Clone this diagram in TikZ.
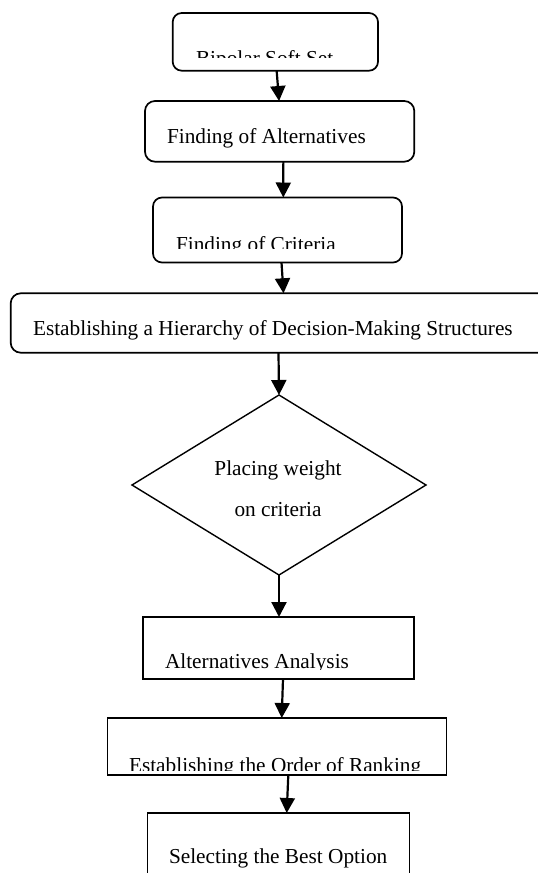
\documentclass[tikz,border=0pt]{standalone}
\usepackage{fontspec}
\setmainfont{Liberation Serif}
\usetikzlibrary{arrows.meta,shapes.geometric}
\tikzset{
  rbox/.style={draw, line width=1.7pt, rounded corners=9pt, inner sep=0pt, outer sep=0pt},
  sbox/.style={draw, line width=1.8pt, inner sep=0pt, outer sep=0pt},
  dia/.style={draw, diamond, line width=1.4pt, inner sep=0pt, outer sep=0pt},
  txt/.style={inner sep=0pt, outer sep=0pt, font=\fontsize{21.3}{25}\selectfont},
  arr/.style={line width=2.2pt, -{Triangle[length=15pt,width=15pt]}}
}
\begin{document}
\begin{tikzpicture}[x=1pt,y=-1pt]
\clip (0,0) rectangle (538,873);
\fill[white] (0,0) rectangle (538,873);
% boxes
\node[rbox, minimum width=205.3pt, minimum height=57.7pt] (b1) at (275.35,41.85) {};
\node[rbox, rounded corners=10pt, minimum width=269.3pt, minimum height=60.7pt] (b2) at (279.65,131.35) {};
\node[rbox, minimum width=249pt, minimum height=65pt] (b3) at (277.5,230) {};
\node[rbox, rounded corners=10pt, minimum width=549.3pt, minimum height=59.4pt] (b4) at (285.35,323) {};
\node[dia, minimum width=294pt, minimum height=180pt] (d5) at (279,485) {};
\node[sbox, minimum width=271pt, minimum height=62pt] (b6) at (278.5,648) {};
\node[sbox, minimum width=339pt, minimum height=57pt] (b7) at (277,746.5) {};
\node[sbox, minimum width=262pt, minimum height=87pt] (b8) at (278.5,856.5) {};
% texts
\begin{scope}
\clip (172,13) rectangle (378,57.3);
\node[txt, anchor=base west] (t1) at (196,65.6) {Bipolar Soft Set};
\end{scope}
\node[txt, anchor=base west] (t2) at (167,143.3) {Finding of Alternatives};
\begin{scope}
\clip (153,197) rectangle (402,248.5);
\node[txt, anchor=base west] (t3) at (176,251.5) {Finding of Criteria};
\end{scope}
\node[txt, anchor=base west] (t4) at (33,335) {Establishing a Hierarchy of Decision-Making Structures};
\node[txt, anchor=base] (t5a) at (278,475) {Placing weight};
\node[txt, anchor=base] (t5b) at (278,516.7) {on criteria};
\begin{scope}
\clip (143,617) rectangle (414,669.5);
\node[txt, anchor=base west] (t6) at (165,668) {Alternatives Analysis};
\end{scope}
\begin{scope}
\clip (107,718) rectangle (447,770);
\node[txt, anchor=base west] (t7) at (129,772) {Establishing the Order of Ranking};
\end{scope}
\node[txt, anchor=base west] (t8) at (169,863) {Selecting the Best Option};
% arrows
\draw[arr] ([xshift=1.3pt]b1.south) -- ([xshift=-0.6pt]b2.north);
\draw[arr] ([xshift=3.7pt]b2.south) -- ([xshift=5.8pt]b3.north);
\draw[arr] ([xshift=4pt]b3.south) -- ([xshift=-1.85pt]b4.north);
\draw[arr] ([xshift=-6.85pt]b4.south) -- (d5.north);
\draw[arr] (d5.south) -- ([xshift=0.5pt]b6.north);
\draw[arr] ([xshift=4.5pt]b6.south) -- ([xshift=4.7pt]b7.north);
\draw[arr] ([xshift=11.3pt]b7.south) -- ([xshift=8.2pt]b8.north);
\end{tikzpicture}
\end{document}
